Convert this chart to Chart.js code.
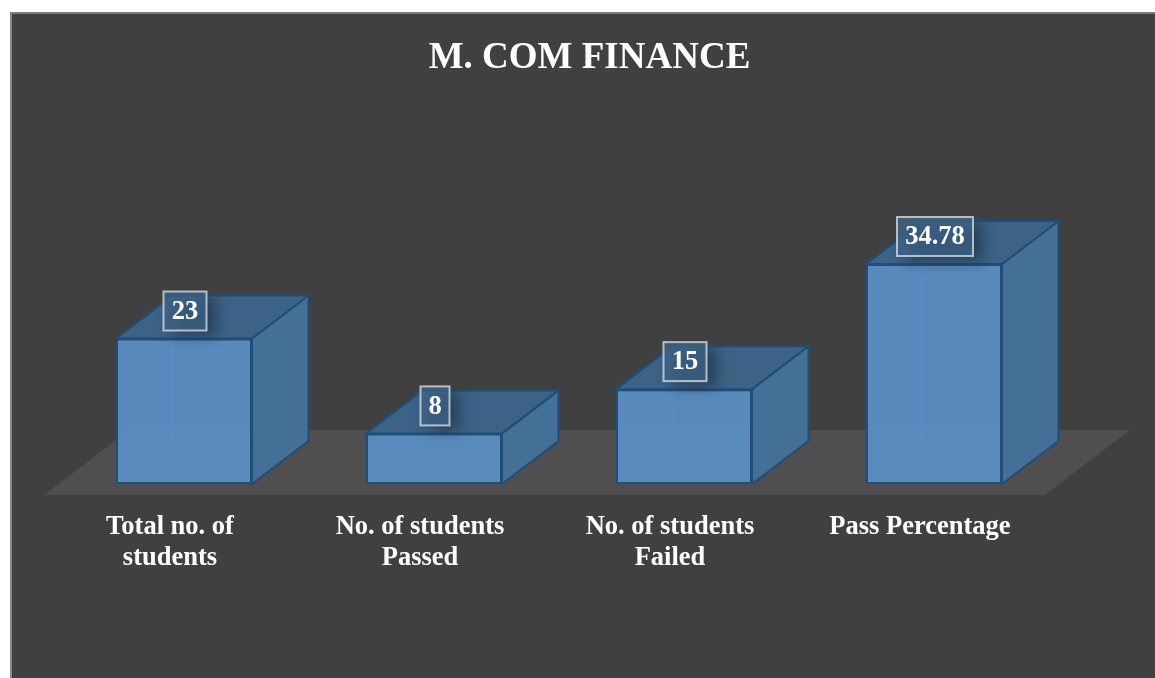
<!DOCTYPE html>
<html>
<head>
<meta charset="utf-8">
<style>
html,body{margin:0;padding:0;background:#fff;width:1155px;height:678px;overflow:hidden}
#panel{position:absolute;left:10px;top:12px;width:1145px;height:666px;box-sizing:border-box;background:#404040;border-left:2px solid #8a8a8a;border-top:2px solid #7a7a7a}
#wrap{position:absolute;left:0;top:0;width:1155px;height:678px}
</style>
<script src="https://cdn.jsdelivr.net/npm/chart.js@4"></script>
</head>
<body>
<div id="panel"></div>
<div id="wrap"><canvas id="c" width="1155" height="678"></canvas></div>
<script>
const titleText = "M. COM FINANCE";
const categories = [["Total no. of","students"],["No. of students","Passed"],["No. of students","Failed"],["Pass Percentage"]];
const values = [23, 8, 15, 34.78];
const valueLabels = ["23", "8", "15", "34.78"];
const SERIF = '"Liberation Serif","Times New Roman",serif';

const DX = 56.5, DY = 43;

function path(ctx, pts){
  ctx.beginPath();
  pts.forEach((p,i)=> i ? ctx.lineTo(p[0],p[1]) : ctx.moveTo(p[0],p[1]));
  ctx.closePath();
}

const bars3d = {
  id:'bars3d',
  beforeDatasetsDraw(chart){
    const {ctx, chartArea:a, scales:{y}} = chart;
    const b = y.getPixelForValue(0);
    ctx.save();
    ctx.fillStyle = '#504e4e';
    path(ctx, [[a.left-15,b+11],[a.left+70,b-54],[a.right+71,b-54],[a.right-14,b+11]]);
    ctx.fill();
    ctx.restore();
    chart.getDatasetMeta(0).data.forEach(bar=>{
      const l=bar.x-bar.width/2, r=bar.x+bar.width/2;
      ctx.save();
      ctx.strokeStyle='rgba(70,130,190,0.55)'; ctx.lineWidth=1.5;
      ctx.beginPath();
      ctx.moveTo(l,b); ctx.lineTo(l+DX,b-DY);
      ctx.lineTo(l+DX,bar.y-DY);
      ctx.moveTo(l+DX,b-DY); ctx.lineTo(r+DX,b-DY);
      ctx.stroke();
      ctx.restore();
    });
  },
  afterDatasetsDraw(chart){
    const {ctx, scales:{y}} = chart;
    const b = y.getPixelForValue(0);
    const meta = chart.getDatasetMeta(0);
    meta.data.forEach((bar,i)=>{
      const l=bar.x-bar.width/2, r=bar.x+bar.width/2, t=bar.y;
      const top=[[l,t],[l+DX,t-DY],[r+DX,t-DY],[r,t]];
      const side=[[r,t],[r+DX,t-DY],[r+DX,b-DY],[r,b]];
      ctx.save();
      ctx.lineWidth=2; ctx.strokeStyle='#1f4e79'; ctx.lineJoin='round';
      path(ctx,side); ctx.fillStyle='#446f97'; ctx.fill(); ctx.stroke();
      path(ctx,top); ctx.fillStyle='#3c6285'; ctx.fill(); ctx.stroke();
      ctx.restore();

      // value label box with soft shadow falling on the bar
      const txt=valueLabels[i];
      ctx.save();
      ctx.font='bold 26.5px '+SERIF;
      const w=Math.round(ctx.measureText(txt).width)+16, h=39;
      const cx=bar.x+1, cy=t-27.5, x0=cx-w/2, y0=cy-h/2;
      ctx.save();
      ctx.beginPath();
      ctx.moveTo(l,t);ctx.lineTo(l+DX,t-DY);ctx.lineTo(r+DX,t-DY);ctx.lineTo(r,t);
      ctx.lineTo(r,t+30);ctx.lineTo(l,t+30);ctx.closePath();
      ctx.clip();
      ctx.shadowColor='rgba(25,40,60,0.6)';
      ctx.shadowBlur=14;
      ctx.shadowOffsetX=2000+9; ctx.shadowOffsetY=5;
      ctx.fillStyle='#000';
      ctx.fillRect(x0-2000,y0,w,h);
      ctx.restore();
      ctx.fillStyle='rgba(62,100,136,0.75)';
      ctx.fillRect(x0,y0,w,h);
      ctx.strokeStyle='rgba(205,210,214,0.85)'; ctx.lineWidth=2;
      ctx.strokeRect(x0,y0,w,h);
      ctx.fillStyle='#ffffff';
      ctx.textAlign='center'; ctx.textBaseline='middle';
      ctx.fillText(txt,cx,cy+1);
      ctx.restore();
    });
  }
};

new Chart(document.getElementById('c'),{
  type:'bar',
  data:{labels:categories,datasets:[{
    data:values,
    backgroundColor:'rgba(91,148,205,0.88)',
    borderColor:'#1f4e79',
    borderWidth:2,
    borderSkipped:false,
    barPercentage:0.544,
    categoryPercentage:1
  }]},
  plugins:[bars3d],
  options:{
    responsive:false,
    animation:false,
    layout:{padding:{left:24,right:0,top:0,bottom:0}},
    plugins:{
      legend:{display:false},
      tooltip:{enabled:false},
      title:{display:true,text:titleText,color:'#ffffff',
        font:{family:SERIF,size:37,weight:'bold',lineHeight:1.2},
        padding:{top:36,bottom:24.1}}
    },
    scales:{
      x:{
        grid:{display:false,drawTicks:false},
        border:{display:false},
        afterFit(s){s.height=194;},
        ticks:{color:'#ffffff',padding:28,maxRotation:0,minRotation:0,autoSkip:false,labelOffset:-14,
          font:{family:SERIF,size:26.5,weight:'bold',lineHeight:1.17}}
      },
      y:{
        min:0,max:60,
        grid:{display:false,drawTicks:false},
        border:{display:false},
        ticks:{display:false},
        afterFit(s){s.width=35;}
      },
      yRight:{
        position:'right',
        min:0,max:60,
        grid:{display:false,drawTicks:false},
        border:{display:false},
        ticks:{display:false},
        afterFit(s){s.width=96;}
      }
    }
  }
});
</script>
</body>
</html>
